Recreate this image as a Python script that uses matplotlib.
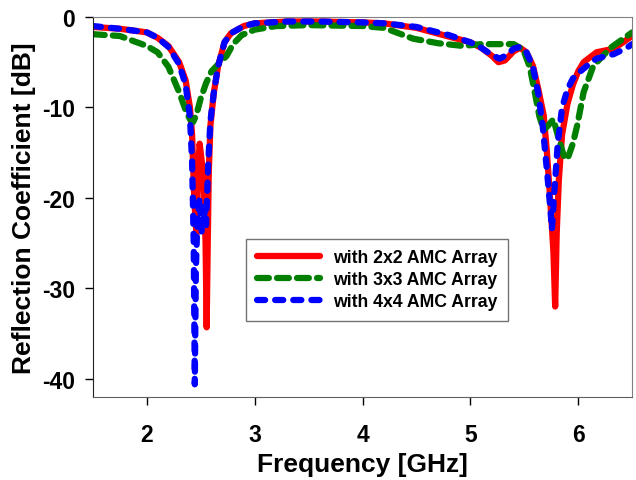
import matplotlib
matplotlib.use("Agg")
import matplotlib.pyplot as plt

# 2x2 AMC array
freq_2x2 = [1.5, 1.75, 2.0, 2.1, 2.2, 2.3, 2.36, 2.40, 2.42, 2.44, 2.46, 2.48, 2.49, 2.51,
            2.53, 2.545, 2.555, 2.565, 2.575, 2.59, 2.62, 2.66, 2.72, 2.78, 2.9, 3.0, 3.3,
            3.6, 4.0, 4.2, 4.5, 4.78, 5.0, 5.1, 5.2, 5.26, 5.32, 5.4, 5.46, 5.52, 5.58,
            5.63, 5.68, 5.71, 5.74, 5.77, 5.786, 5.80, 5.82, 5.85, 5.9, 5.95, 6.0, 6.05,
            6.17, 6.33, 6.5]
s11_2x2 = [-1.1, -1.3, -1.7, -2.3, -3.2, -5.0, -7.0, -10.0, -13.0, -20.0, -24.0, -16.0,
           -14.0, -16.0, -19.0, -25.0, -34.3, -25.0, -17.0, -12.0, -8.5, -5.5, -2.8, -1.8,
           -1.0, -0.7, -0.5, -0.5, -0.6, -0.7, -1.2, -2.1, -2.8, -3.4, -4.3, -5.0, -4.8,
           -3.8, -3.4, -3.9, -5.4, -8.0, -10.9, -15.0, -20.2, -26.0, -32.0, -24.0, -18.0,
           -13.0, -9.6, -7.5, -6.0, -5.0, -3.9, -3.5, -2.1]

# 3x3 AMC array
freq_3x3 = [1.5, 1.75, 2.0, 2.1, 2.2, 2.3, 2.36, 2.40, 2.43, 2.46, 2.50, 2.55, 2.60, 2.68,
            2.74, 2.80, 2.88, 3.0, 3.2, 3.5, 4.0, 4.2, 4.47, 4.7, 4.93, 5.1, 5.4, 5.49,
            5.55, 5.60, 5.64, 5.68, 5.72, 5.77, 5.82, 5.87, 5.90, 5.95, 5.99, 6.05, 6.14,
            6.30, 6.5]
s11_3x3 = [-1.9, -2.1, -3.2, -3.9, -5.5, -8.3, -10.3, -11.3, -11.6, -10.8, -9.0, -7.3,
           -6.0, -5.0, -4.3, -3.0, -2.0, -1.4, -1.0, -0.9, -1.0, -1.2, -2.4, -2.9, -3.2,
           -3.0, -3.0, -3.6, -5.5, -8.5, -11.0, -12.5, -12.0, -11.3, -13.5, -15.5, -15.7,
           -14.0, -12.0, -8.3, -5.4, -3.4, -1.7]

# 4x4 AMC array
freq_4x4 = [1.5, 1.75, 2.0, 2.1, 2.2, 2.3, 2.36, 2.40, 2.42, 2.435, 2.445, 2.455, 2.47,
            2.49, 2.51, 2.53, 2.55, 2.57, 2.59, 2.62, 2.66, 2.72, 2.78, 2.9, 3.0, 3.3, 3.6,
            4.0, 4.2, 4.5, 4.8, 5.0, 5.1, 5.2, 5.27, 5.34, 5.4, 5.46, 5.52, 5.58, 5.63,
            5.67, 5.71, 5.74, 5.756, 5.78, 5.81, 5.85, 5.9, 5.95, 6.02, 6.1, 6.17, 6.33,
            6.45, 6.5]
s11_4x4 = [-1.0, -1.3, -1.7, -2.3, -3.3, -5.2, -7.5, -11.0, -16.0, -25.0, -40.6, -28.0,
           -22.0, -20.0, -24.0, -21.0, -23.0, -16.0, -11.5, -8.5, -5.5, -2.8, -1.8, -1.0,
           -0.7, -0.5, -0.5, -0.6, -0.7, -1.1, -2.0, -2.8, -3.4, -4.2, -4.6, -4.2, -3.5,
           -3.3, -3.9, -5.5, -8.5, -12.0, -17.0, -21.0, -23.5, -19.0, -14.0, -10.0, -8.0,
           -6.8, -6.0, -5.2, -4.6, -4.1, -3.4, -3.0]

labels = ["with 2x2 AMC Array", "with 3x3 AMC Array", "with 4x4 AMC Array"]

plt.rcParams['font.family'] = ['Liberation Sans', 'DejaVu Sans']
plt.rcParams['font.weight'] = 'bold'
plt.rcParams['axes.unicode_minus'] = False

fig = plt.figure(figsize=(6.36, 4.81), dpi=100)
ax = fig.add_axes([0.146, 0.1726, 0.848, 0.79])

ax.plot(freq_2x2, s11_2x2, color='red', lw=4.5, solid_capstyle='round', label=labels[0])
ax.plot(freq_3x3, s11_3x3, color='#007f00', lw=4.5, dashes=(1.9, 1.3),
        dash_capstyle='round', label=labels[1])
ax.plot(freq_4x4, s11_4x4, color='blue', lw=4.5, dashes=(1.3, 1.6),
        dash_capstyle='round', label=labels[2])

ax.set_xlim(1.5, 6.5)
ax.set_ylim(-42, 0)
ax.set_xticks([2, 3, 4, 5, 6])
ax.set_yticks([-40, -30, -20, -10, 0])
ax.tick_params(labelsize=16.5, length=6, width=1, direction='out')
for t in ax.get_xticklabels() + ax.get_yticklabels():
    t.set_fontweight('bold')
ax.tick_params(axis='x', pad=13)
ax.tick_params(axis='y', pad=7)

ax.set_xlabel("Frequency [GHz]", fontsize=19, fontweight='bold', labelpad=4)
ax.set_ylabel("Reflection Coefficient [dB]", fontsize=19, fontweight='bold', labelpad=4)

ax.spines['left'].set_color('#202020')
ax.spines['bottom'].set_color('#606060')
ax.spines['top'].set_color('#808080')
ax.spines['right'].set_color('#808080')

leg = ax.legend(loc='upper left', bbox_to_anchor=(0.268, 0.44),
                frameon=True, fancybox=False, edgecolor='#505050', handlelength=3.6,
                handletextpad=0.7, borderpad=0.6, labelspacing=0.28,
                prop={'weight': 'bold', 'size': 12.7})
leg.get_frame().set_linewidth(1.0)

fig.savefig("out.png", dpi=100)
